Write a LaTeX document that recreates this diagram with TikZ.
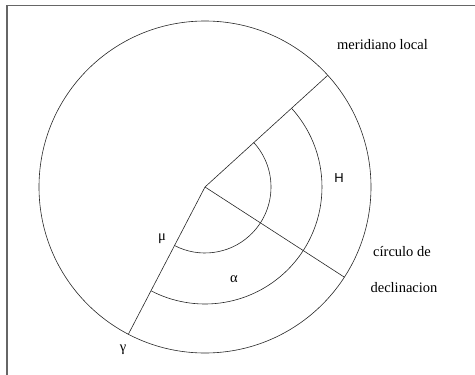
\documentclass[tikz,border=0pt]{standalone}
\usepackage{fontspec}
\setmainfont{Liberation Serif}
\newfontfamily\tms{Liberation Serif}
\newfontfamily\hsans{Liberation Sans}
\usetikzlibrary{calc}
\begin{document}
\begin{tikzpicture}[x=1pt,y=1pt,
  geom/.style={line width=0.6pt,black!85},
  frameline/.style={line width=1.1pt,black!60},
  lbl/.style={inner sep=0pt,font=\tms\fontsize{14.5}{16}\selectfont}]
\useasboundingbox (0,0) rectangle (475,-375);
% frame
\coordinate (f1) at (7,-5.5);
\coordinate (f2) at (475,-5.5);
\coordinate (f3) at (7,-375);
\draw[frameline] (f3) -- (f1) -- (f2);
% circle and rays
\coordinate (O) at (205,-187);
\draw[geom] (O) circle[radius=166];
\coordinate (M) at ($(O)+(42.3:166)$);
\coordinate (D) at ($(O)+(-32.9:166)$);
\coordinate (G) at ($(O)+(-117.5:166)$);
\draw[geom] (O) -- (M);
\draw[geom] (O) -- (D);
\draw[geom] (O) -- (G);
% arcs
\draw[geom] ($(O)+(42.3:66)$) arc[start angle=42.3, end angle=-117.5, radius=66];
\draw[geom] ($(O)+(42.3:117)$) arc[start angle=42.3, end angle=-117.5, radius=117];
% labels
\node[lbl] (ml) at (382.5,-45) {meridiano local};
\node[lbl] (cd) at (402,-252) {círculo de};
\node[lbl] (dc) at (404,-288) {declinacion};
\node[lbl,font=\hsans\fontsize{13}{15}\selectfont] (h) at (339,-178) {H};
\node[lbl] (mu) at (162,-239) {μ};
\node[lbl] (al) at (234,-279) {α};
\node[lbl] (ga) at (123,-350) {γ};
\end{tikzpicture}
\end{document}
